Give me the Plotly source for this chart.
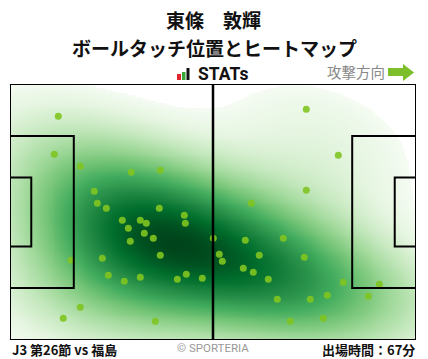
import numpy as np
import plotly.graph_objects as go

# Ball touch positions in metres on a 105 x 68 pitch (attacking left -> right,
# y measured up from the bottom touchline)
touch_x = [12.49, 11.46, 18.18, 31.37, 38.87, 21.80, 22.58, 24.91, 38.61, 45.08,
           45.34, 29.04, 33.70, 35.25, 30.60, 34.73, 37.06, 31.11, 38.87, 52.58,
           15.78, 23.87, 25.42, 29.56, 33.70, 43.27, 45.59, 49.73, 18.18, 13.78,
           37.58, 62.41, 76.63, 84.91, 76.63, 60.85, 70.68, 54.13, 54.91, 64.47,
           76.11, 60.34, 62.92, 66.80, 86.20, 95.51, 69.13, 77.66, 82.06, 92.66,
           72.49, 81.03]
touch_y = [59.42, 49.33, 46.14, 44.54, 45.08, 39.50, 36.31, 34.98, 34.98, 33.12,
           31.00, 31.80, 31.80, 31.00, 29.67, 28.34, 27.01, 26.22, 22.50, 27.01,
           21.17, 21.70, 17.19, 15.59, 16.65, 16.12, 17.45, 16.39, 8.69, 5.76,
           4.97, 36.31, 61.28, 49.06, 39.76, 26.48, 27.01, 22.76, 20.90, 22.50,
           21.97, 19.04, 17.98, 16.12, 15.33, 14.80, 10.81, 10.81, 11.87, 11.61,
           4.97, 5.76]

player_name = "東條　敦輝"
chart_title = "ボールタッチ位置とヒートマップ"
match_label = "J3 第26節 vs 福島"
minutes_label = "出場時間：67分"
direction_label = "攻撃方向"

PITCH_L, PITCH_W = 105.0, 68.0
W, H = 428, 359
PL, PR, PT, PB = 10, 416, 84, 340   # plot area in pixels

greens = ["#f7fcf5", "#e5f5e0", "#c7e9c0", "#a1d99b", "#74c476",
          "#41ab5d", "#238b45", "#006d2c", "#00441b"]

BW_SCALE = 1.5      # bandwidth multiplier on Scott's rule
THRESH = 0.05       # fraction of peak density below which nothing is shaded
GAMMA = 0.72        # tone curve applied to the normalised density


def gaussian_kde(px, py, gx, gy, bw_scale=1.0):
    pts = np.vstack([px, py])
    n = pts.shape[1]
    cov = np.cov(pts) * n ** (-1.0 / 3.0) * bw_scale ** 2   # Scott's rule, d = 2
    inv = np.linalg.inv(cov)
    GX, GY = np.meshgrid(gx, gy)
    grid = np.stack([GX.ravel(), GY.ravel()])
    diff = grid[:, :, None] - pts[:, None, :]
    q = np.einsum("imn,ij,jmn->mn", diff, inv, diff)
    dens = np.exp(-0.5 * q).sum(axis=1) / (n * 2 * np.pi * np.sqrt(np.linalg.det(cov)))
    return dens.reshape(GX.shape)


gx = np.linspace(0, PITCH_L, 211)
gy = np.linspace(0, PITCH_W, 137)
dens = gaussian_kde(touch_x, touch_y, gx, gy, BW_SCALE)
zmax = dens.max()
thr = THRESH * zmax
zn = (dens - thr) / (zmax - thr)
low = -0.02
zn = np.where(zn < 0, low, np.clip(zn, 0, 1) ** GAMMA)

off = -low / (1 - low)
colorscale = [[0.0, "#ffffff"], [off * 0.999, "#ffffff"]]
for i, c in enumerate(greens):
    colorscale.append([off + (1 - off) * i / (len(greens) - 1), c])

fig = go.Figure()
fig.add_trace(go.Heatmap(
    x=gx, y=gy, z=zn, zmin=low, zmax=1.0, colorscale=colorscale,
    zsmooth="best", showscale=False, hoverinfo="skip"))
fig.add_trace(go.Scatter(
    x=touch_x, y=touch_y, mode="markers",
    marker=dict(size=7, color="rgba(128,196,32,0.9)", line=dict(width=0)),
    hoverinfo="skip"))

line = dict(color="black", width=2)
# pitch markings
fig.add_shape(type="rect", x0=0, y0=0, x1=PITCH_L, y1=PITCH_W, line=line)
fig.add_shape(type="line", x0=PITCH_L / 2, y0=0, x1=PITCH_L / 2, y1=PITCH_W,
              line=dict(color="black", width=2.5))
for side in (0, 1):
    for depth, width in ((16.5, 40.32), (5.5, 18.32)):
        x0 = 0 if side == 0 else PITCH_L - depth
        x1 = depth if side == 0 else PITCH_L
        fig.add_shape(type="rect", x0=x0, x1=x1,
                      y0=(PITCH_W - width) / 2, y1=(PITCH_W + width) / 2, line=line)


def px2paper(x, y):
    return (x - PL) / (PR - PL), (PB - y) / (PB - PT)


def add_text(text, x, y, size, color="#111111", xanchor="center", bold=True,
             family="Noto Sans CJK JP"):
    px, py = px2paper(x, y)
    fig.add_annotation(text=f"<b>{text}</b>" if bold else text, x=px, y=py,
                       xref="paper", yref="paper", showarrow=False,
                       xanchor=xanchor, yanchor="middle",
                       font=dict(size=size, color=color, family=family))


add_text(player_name, 213, 19, 19)
add_text(chart_title, 214, 47, 19)
add_text("STATs", 196, 74, 17.5, xanchor="left", family="Roboto")
add_text(direction_label, 325, 71, 14.5, color="#888888", xanchor="left", bold=False)
add_text(match_label, 10, 349, 13, xanchor="left")
add_text("© SPORTERIA", 213, 348, 11.5, color="#999999", bold=False, family="Roboto")
add_text(minutes_label, 417, 349, 13, xanchor="right")

# STATs logo bars
for (bx0, bx1, by0, col) in ((177, 181, 74, "#e0262b"), (182, 185.5, 72, "#3aa63a"),
                             (186.5, 189.5, 68, "#111111")):
    a0, b0 = px2paper(bx0, by0)
    a1, b1 = px2paper(bx1, 80)
    fig.add_shape(type="rect", xref="paper", yref="paper", x0=a0, x1=a1, y0=b1, y1=b0,
                  fillcolor=col, line=dict(width=0))

# attack direction arrow
arrow_pts = [(388, 68), (403, 68), (403, 64), (414, 72.5), (403, 81), (403, 76), (388, 76)]
path = "M " + " L ".join(f"{px2paper(x, y)[0]:.4f},{px2paper(x, y)[1]:.4f}" for x, y in arrow_pts) + " Z"
fig.add_shape(type="path", xref="paper", yref="paper", path=path,
              fillcolor="#7cbf2a", line=dict(width=0))

fig.update_layout(
    width=W, height=H, margin=dict(l=PL, r=W - PR, t=PT, b=H - PB),
    paper_bgcolor="white", plot_bgcolor="white", showlegend=False,
    xaxis=dict(range=[0, PITCH_L], visible=False, fixedrange=True),
    yaxis=dict(range=[0, PITCH_W], visible=False, fixedrange=True),
)

fig.write_html("out.html")
